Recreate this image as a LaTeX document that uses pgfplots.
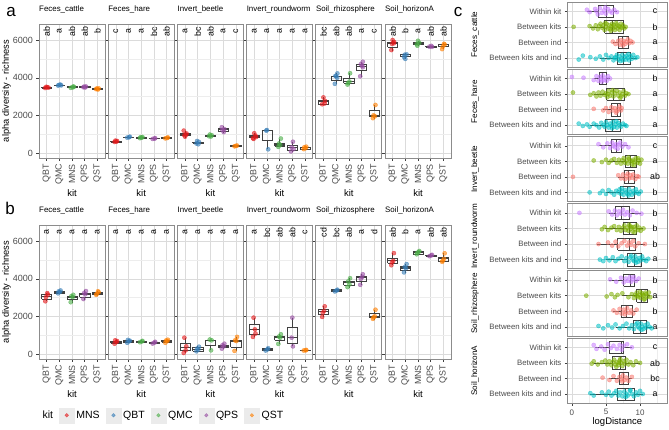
\documentclass[border=0pt]{standalone}
\usepackage{pgfplots}
\pgfplotsset{compat=1.18}
\usepackage{fontspec}
\setmainfont{Liberation Sans}
\newcommand{\fs}[1]{\fontsize{#1}{#1}\selectfont}
\definecolor{cQBT}{HTML}{E41A1C}
\definecolor{cQMC}{HTML}{377EB8}
\definecolor{cMNS}{HTML}{4DAF4A}
\definecolor{cQPS}{HTML}{984EA3}
\definecolor{cQST}{HTML}{FF7F00}
\definecolor{cW}{HTML}{C77CFF}
\definecolor{cBK}{HTML}{7CAE00}
\definecolor{cBI}{HTML}{F8766D}
\definecolor{cBKI}{HTML}{00BFC4}
\tikzset{ltr/.style={rotate=90, font=\fs{8.8}, inner sep=0pt},
         cl/.style={font=\fs{8.8}, inner sep=0pt}}
\pgfplotsset{
  common/.style={scale only axis, grid=both,
    major grid style={black!14, line width=0.5pt},
    minor grid style={black!7, line width=0.35pt},
    axis line style={black!45, line width=0.8pt},
    tick pos=left, tick align=outside, major tick length=2.6pt, minor tick length=0pt,
    tick style={black!75, line width=0.45pt}},
  abfacet/.style={common, width=66pt, height=134pt,
    xmin=0.4, xmax=5.6, ymin=-250, ymax=6850,
    xtick={1,2,3,4,5}, xticklabels={QBT,QMC,MNS,QPS,QST},
    ytick={0,2000,4000,6000}, minor ytick={1000,3000,5000}, yticklabels={},
    xticklabel style={rotate=90, anchor=east, font=\fs{8.9}, text=black!70},
    yticklabel style={font=\fs{9}, text=black!70},
    xlabel={kit},
    every axis x label/.style={at={(axis description cs:0.5,-0.261)}, anchor=center, font=\fs{9.5}},
    every axis y label/.style={at={(axis description cs:-0.492,0.5)}, rotate=90, anchor=center, font=\fs{9.3}},
    title style={at={(axis description cs:0,1)}, anchor=base west, yshift=6.3pt, font=\fs{7.9}, inner sep=0pt}},
  cfacet/.style={common, width=99.8pt, height=65.3pt,
    xmin=-0.65, xmax=14, ymin=0.4, ymax=4.6,
    ytick={1,2,3,4}, yticklabels={Between kits and ind,Between ind,Between kits,Within kit},
    xtick={0,5,10}, minor xtick={2.5,7.5,12.5}, xticklabels={},
    yticklabel style={font=\fs{7.8}, text=black!70},
    xticklabel style={font=\fs{8}, text=black!70},
    every axis y label/.style={at={(axis description cs:-0.927,0.5)}, rotate=90, anchor=center, font=\fs{8.1}},
    every axis x label/.style={at={(axis description cs:0.5,-0.282)}, anchor=center, font=\fs{9.5}}},
  pA/.style={only marks, mark=*, mark size=2.1pt, opacity=0.6},
  pC/.style={only marks, mark=*, mark size=2.1pt, opacity=0.55},
  bxs/.style={black!75, line width=0.5pt, no marks},
  legkey/.style={only marks, mark=*, mark size=1.8pt, mark options={fill opacity=0.6, draw opacity=0.6},
    legend image code/.code={\fill[black!8, opacity=1] (0pt,-7.5pt) rectangle (15pt,7.5pt);
      \draw[mark repeat=2, mark phase=2] plot coordinates {(0pt,0pt)(7.5pt,0pt)(15pt,0pt)};}}
}
% vertical box: position, lower whisker, Q1, median, Q3, upper whisker
\newcommand{\bx}[6]{%
  \pgfmathsetmacro{\xa}{#1-0.4}\pgfmathsetmacro{\xb}{#1+0.4}%
  \addplot[bxs] coordinates {(\xa,#3)(\xb,#3)(\xb,#5)(\xa,#5)(\xa,#3)};
  \addplot[bxs] coordinates {(#1,#2)(#1,#3)};
  \addplot[bxs] coordinates {(#1,#5)(#1,#6)};
  \addplot[bxs, line width=1.1pt] coordinates {(\xa,#4)(\xb,#4)};}
% horizontal box
\newcommand{\hbx}[6]{%
  \pgfmathsetmacro{\ya}{#1-0.4}\pgfmathsetmacro{\yb}{#1+0.4}%
  \addplot[bxs] coordinates {(#3,\ya)(#3,\yb)(#5,\yb)(#5,\ya)(#3,\ya)};
  \addplot[bxs] coordinates {(#2,#1)(#3,#1)};
  \addplot[bxs] coordinates {(#5,#1)(#6,#1)};
  \addplot[bxs, line width=0.9pt] coordinates {(#4,\ya)(#4,\yb)};}
\newcommand{\lab}[5]{\node[ltr] at (axis cs:1,6450) {#1}; \node[ltr] at (axis cs:2,6450) {#2}; \node[ltr] at (axis cs:3,6450) {#3}; \node[ltr] at (axis cs:4,6450) {#4}; \node[ltr] at (axis cs:5,6450) {#5};}
\newcommand{\clab}[4]{\node[cl] at (axis cs:12.2,4) {#1}; \node[cl] at (axis cs:12.2,3) {#2}; \node[cl] at (axis cs:12.2,2) {#3}; \node[cl] at (axis cs:12.2,1) {#4};}
\begin{document}
\begin{tikzpicture}
\useasboundingbox (0pt,0pt) rectangle (669pt,429pt);
\node[font=\fs{17}] at (11pt,417pt) {a};
\node[font=\fs{17}] at (10pt,221pt) {b};
\node[font=\fs{17}] at (458pt,417pt) {c};

% ===================== panel a =====================
\begin{axis}[abfacet, at={(39pt,405pt)}, anchor=north west, title={Feces\_cattle}, yticklabels={0,2000,4000,6000}, ylabel={alpha diversity - richness}]
\bx{1}{3440}{3470}{3490}{3510}{3540}
\bx{2}{3570}{3590}{3610}{3625}{3650}
\bx{3}{3460}{3490}{3510}{3530}{3550}
\bx{4}{3480}{3500}{3520}{3530}{3560}
\bx{5}{3380}{3400}{3420}{3440}{3460}
\addplot[pA,cQBT] coordinates {(0.88,3460)(1.05,3500)(1.15,3480)(0.97,3520)};
\addplot[pA,cQMC] coordinates {(1.9,3590)(2.08,3640)(2.15,3600)(1.98,3620)};
\addplot[pA,cMNS] coordinates {(2.9,3470)(3.1,3540)(3.05,3490)(3.15,3520)};
\addplot[pA,cQPS] coordinates {(3.9,3500)(4.1,3540)(4.05,3490)(3.95,3530)};
\addplot[pA,cQST] coordinates {(4.9,3400)(5.1,3440)(5.05,3380)(4.95,3430)};
\lab{ab}{a}{ab}{ab}{b}
\end{axis}
\begin{axis}[abfacet, at={(108.2pt,405pt)}, anchor=north west, title={Feces\_hare}]
\bx{1}{590}{610}{630}{650}{670}
\bx{2}{820}{840}{855}{870}{890}
\bx{3}{790}{815}{830}{845}{870}
\bx{4}{750}{770}{785}{795}{810}
\bx{5}{780}{800}{815}{830}{850}
\addplot[pA,cQBT] coordinates {(0.9,600)(1.1,650)(1.05,620)(0.97,670)};
\addplot[pA,cQMC] coordinates {(1.9,830)(2.1,880)(2.05,850)};
\addplot[pA,cMNS] coordinates {(2.9,800)(3.1,860)(3.05,830)(2.95,850)};
\addplot[pA,cQPS] coordinates {(3.9,760)(4.1,800)(4.05,780)};
\addplot[pA,cQST] coordinates {(4.9,790)(5.1,840)(5.05,810)};
\lab{c}{a}{a}{bc}{ab}
\end{axis}
\begin{axis}[abfacet, at={(177.4pt,405pt)}, anchor=north west, title={Invert\_beetle}]
\bx{1}{820}{940}{980}{1040}{1200}
\bx{2}{480}{540}{570}{600}{660}
\bx{3}{880}{910}{930}{960}{990}
\bx{4}{1100}{1180}{1260}{1350}{1420}
\bx{5}{350}{375}{390}{405}{430}
\addplot[pA,cQBT] coordinates {(0.9,1200)(1.1,990)(1.0,880)(1.12,1050)(0.95,960)};
\addplot[pA,cQMC] coordinates {(1.9,520)(2.1,600)(2.05,480)(1.95,650)};
\addplot[pA,cMNS] coordinates {(2.9,900)(3.1,960)(3.05,890)(2.95,990)};
\addplot[pA,cQPS] coordinates {(3.9,1380)(4.1,1280)(4.05,1120)(3.95,1230)};
\addplot[pA,cQST] coordinates {(4.9,370)(5.1,410)(5.0,390)};
\lab{a}{bc}{ab}{a}{c}
\end{axis}
\begin{axis}[abfacet, at={(246.6pt,405pt)}, anchor=north west, title={Invert\_roundworm}]
\bx{1}{750}{830}{880}{950}{1080}
\bx{2}{210}{700}{1200}{1215}{1230}
\bx{3}{320}{360}{440}{530}{780}
\bx{4}{90}{180}{320}{440}{620}
\bx{5}{190}{230}{300}{330}{380}
\addplot[pA,cQBT] coordinates {(0.9,800)(1.1,930)(1.0,1060)(1.15,860)(0.95,760)};
\addplot[pA,cQMC] coordinates {(2.0,1230)(1.95,1200)(2.1,210)};
\addplot[pA,cMNS] coordinates {(2.9,340)(3.1,780)(3.05,440)(2.95,520)};
\addplot[pA,cQPS] coordinates {(3.9,100)(4.1,220)(4.05,610)(3.95,320)};
\addplot[pA,cQST] coordinates {(4.9,220)(5.1,350)(5.05,270)(4.95,320)};
\lab{a}{a}{a}{a}{a}
\end{axis}
\begin{axis}[abfacet, at={(315.8pt,405pt)}, anchor=north west, title={Soil\_rhizosphere}]
\bx{1}{2590}{2620}{2720}{2820}{2970}
\bx{2}{3670}{3850}{4060}{4090}{4240}
\bx{3}{3620}{3710}{3800}{3970}{4240}
\bx{4}{4060}{4380}{4620}{4710}{4850}
\bx{5}{1820}{1940}{2010}{2290}{2560}
\addplot[pA,cQBT] coordinates {(0.9,2600)(1.1,2640)(1.0,2960)(1.12,2780)};
\addplot[pA,cQMC] coordinates {(1.9,3680)(2.1,4230)(2.0,4080)(1.95,4100)(2.08,4000)};
\addplot[pA,cMNS] coordinates {(2.9,3640)(3.1,4240)(3.05,3800)(2.95,3720)};
\addplot[pA,cQPS] coordinates {(3.9,4080)(4.1,4850)(4.05,4640)(3.95,4720)(4.1,4560)};
\addplot[pA,cQST] coordinates {(4.9,1860)(5.1,2560)(5.05,1960)(4.95,2010)};
\lab{bc}{ab}{ab}{a}{c}
\end{axis}
\begin{axis}[abfacet, at={(385pt,405pt)}, anchor=north west, title={Soil\_horizonA}]
\bx{1}{5440}{5610}{5820}{5880}{6000}
\bx{2}{4990}{5150}{5210}{5240}{5300}
\bx{3}{5680}{5790}{5820}{5860}{5970}
\bx{4}{5580}{5620}{5650}{5670}{5700}
\bx{5}{5500}{5650}{5740}{5770}{5820}
\addplot[pA,cQBT] coordinates {(0.9,5470)(1.1,5830)(1.0,6000)(1.12,5900)(0.95,5800)};
\addplot[pA,cQMC] coordinates {(1.9,5100)(2.1,5240)(2.0,5000)(1.95,5220)};
\addplot[pA,cMNS] coordinates {(2.9,5780)(3.1,5850)(3.0,5960)(2.95,5700)};
\addplot[pA,cQPS] coordinates {(3.9,5650)(4.1,5640)(4.05,5690)};
\addplot[pA,cQST] coordinates {(4.9,5520)(5.1,5760)(5.05,5800)(4.95,5650)};
\lab{ab}{b}{a}{ab}{ab}
\end{axis}

% ===================== panel b =====================
\begin{axis}[abfacet, at={(39pt,204pt)}, anchor=north west, title={Feces\_cattle}, yticklabels={0,2000,4000,6000}, ylabel={alpha diversity - richness},
  legend style={at={(axis description cs:0.02,-0.42)}, anchor=west, draw=none, fill=none, font=\fs{10.5}, inner sep=0pt,
    /tikz/every even column/.append style={column sep=4pt}}, legend columns=6]
\addlegendimage{empty legend}\addlegendentry{kit}
\addlegendimage{legkey, cQBT}\addlegendentry{MNS}
\addlegendimage{legkey, cQMC}\addlegendentry{QBT}
\addlegendimage{legkey, cMNS}\addlegendentry{QMC}
\addlegendimage{legkey, cQPS}\addlegendentry{QPS}
\addlegendimage{legkey, cQST}\addlegendentry{QST}
\bx{1}{2810}{2930}{3070}{3160}{3240}
\bx{2}{3210}{3250}{3300}{3350}{3390}
\bx{3}{2720}{2890}{3030}{3100}{3160}
\bx{4}{2890}{3030}{3170}{3240}{3390}
\bx{5}{3100}{3160}{3240}{3280}{3340}
\addplot[pA,cQBT] coordinates {(0.9,2810)(1.1,3160)(1.05,3240)(0.95,3030)};
\addplot[pA,cQMC] coordinates {(1.9,3230)(2.1,3380)(2.05,3300)(1.95,3330)};
\addplot[pA,cMNS] coordinates {(2.9,2760)(3.1,3150)(3.05,3030)(2.95,3080)};
\addplot[pA,cQPS] coordinates {(3.9,2930)(4.1,3350)(4.05,3180)(3.95,3240)};
\addplot[pA,cQST] coordinates {(4.9,3150)(5.1,3290)(5.05,3340)(4.95,3200)};
\lab{a}{a}{a}{a}{a}
\end{axis}
\begin{axis}[abfacet, at={(108.2pt,204pt)}, anchor=north west, title={Feces\_hare}]
\bx{1}{530}{600}{650}{700}{740}
\bx{2}{600}{650}{690}{720}{760}
\bx{3}{620}{650}{680}{700}{730}
\bx{4}{560}{590}{620}{650}{680}
\bx{5}{600}{650}{690}{730}{780}
\addplot[pA,cQBT] coordinates {(0.9,560)(1.1,700)(1.05,650)(0.95,740)};
\addplot[pA,cQMC] coordinates {(1.9,610)(2.1,720)(2.05,690)(1.95,760)};
\addplot[pA,cMNS] coordinates {(2.9,640)(3.1,710)(3.05,680)};
\addplot[pA,cQPS] coordinates {(3.9,570)(4.1,660)(4.05,620)};
\addplot[pA,cQST] coordinates {(4.9,610)(5.1,770)(5.05,700)(4.95,730)};
\lab{a}{a}{a}{a}{a}
\end{axis}
\begin{axis}[abfacet, at={(177.4pt,204pt)}, anchor=north west, title={Invert\_beetle}]
\bx{1}{70}{210}{350}{600}{880}
\bx{2}{140}{180}{250}{350}{420}
\bx{3}{210}{475}{740}{760}{780}
\bx{4}{300}{360}{420}{500}{560}
\bx{5}{180}{390}{700}{740}{920}
\addplot[pA,cQBT] coordinates {(0.95,880)(1.1,420)(1.05,210)(0.9,70)};
\addplot[pA,cQMC] coordinates {(1.9,160)(2.1,400)(2.05,250)(1.95,300)};
\addplot[pA,cMNS] coordinates {(2.95,780)(3.1,740)(3.05,210)};
\addplot[pA,cQPS] coordinates {(3.9,300)(4.1,560)(4.05,420)(3.95,480)};
\addplot[pA,cQST] coordinates {(4.9,180)(5.1,920)(5.05,700)(4.95,740)};
\lab{a}{a}{a}{a}{a}
\end{axis}
\begin{axis}[abfacet, at={(246.6pt,204pt)}, anchor=north west, title={Invert\_roundworm}]
\bx{1}{920}{1060}{1320}{1590}{1940}
\bx{2}{170}{210}{260}{320}{370}
\bx{3}{530}{740}{880}{950}{1060}
\bx{4}{420}{600}{880}{1410}{1940}
\bx{5}{180}{200}{210}{225}{240}
\addplot[pA,cQBT] coordinates {(0.95,1940)(1.05,1320)(1.1,1100)(0.9,920)};
\addplot[pA,cQMC] coordinates {(1.9,200)(2.1,320)(2.05,260)};
\addplot[pA,cMNS] coordinates {(2.9,550)(3.1,1060)(3.05,880)(2.95,940)};
\addplot[pA,cQPS] coordinates {(4.0,1940)(3.95,880)(4.05,420)};
\addplot[pA,cQST] coordinates {(4.9,200)(5.1,230)(5.05,210)};
\lab{a}{bc}{ab}{ab}{c}
\end{axis}
\begin{axis}[abfacet, at={(315.8pt,204pt)}, anchor=north west, title={Soil\_rhizosphere}]
\bx{1}{1960}{2120}{2280}{2370}{2540}
\bx{2}{3300}{3360}{3390}{3420}{3460}
\bx{3}{3520}{3650}{3780}{3870}{4030}
\bx{4}{3660}{3870}{4060}{4130}{4240}
\bx{5}{1800}{1940}{2010}{2150}{2360}
\addplot[pA,cQBT] coordinates {(0.9,1980)(1.1,2540)(1.05,2300)(0.95,2200)};
\addplot[pA,cQMC] coordinates {(1.9,3330)(2.1,3420)(2.05,3380)};
\addplot[pA,cMNS] coordinates {(2.9,3560)(3.1,4030)(3.05,3700)(2.95,3860)};
\addplot[pA,cQPS] coordinates {(3.9,3680)(4.1,4240)(4.05,4100)(3.95,4000)};
\addplot[pA,cQST] coordinates {(4.9,1880)(5.1,2360)(5.05,2010)(4.95,1960)};
\lab{cd}{bc}{ab}{a}{d}
\end{axis}
\begin{axis}[abfacet, at={(385pt,204pt)}, anchor=north west, title={Soil\_horizonA}]
\bx{1}{4710}{4840}{4980}{5100}{5360}
\bx{2}{4310}{4450}{4570}{4660}{4800}
\bx{3}{5260}{5300}{5420}{5440}{5490}
\bx{4}{5170}{5210}{5240}{5270}{5290}
\bx{5}{4880}{4940}{5070}{5150}{5360}
\addplot[pA,cQBT] coordinates {(0.9,4720)(1.1,5360)(1.05,4950)(0.95,4880)};
\addplot[pA,cQMC] coordinates {(1.9,4340)(2.1,4780)(2.05,4560)(1.95,4620)};
\addplot[pA,cMNS] coordinates {(2.9,5300)(3.1,5470)(3.05,5420)(2.95,5380)};
\addplot[pA,cQPS] coordinates {(3.9,5200)(4.1,5270)(4.05,5240)};
\addplot[pA,cQST] coordinates {(4.9,4900)(5.1,5350)(5.05,5060)(4.95,4960)};
\lab{ab}{b}{a}{ab}{ab}
\end{axis}

% ===================== panel c =====================
\begin{axis}[cfacet, at={(567.5pt,427pt)}, anchor=north west, ylabel={Feces\_cattle}, xtick style={draw=none}]
\addplot[pC,cW] coordinates {(2.2,4.1)(2.6,3.95)(3.4,4.15)(3.8,3.8)(4.1,4.2)(4.4,3.9)(4.7,4.05)(5.0,3.85)(5.3,4.15)(5.6,4.0)(5.9,3.9)(6.2,4.1)(6.6,3.95)(4.9,4.25)(3.6,4.0)};
\addplot[pC,cBK] coordinates {(0.25,3.0)(2.6,3.05)(3.1,2.9)(3.5,3.1)(3.8,2.85)(4.0,3.05)(4.2,3.2)(4.4,2.95)(4.6,3.1)(4.8,2.8)(5.0,3.0)(5.1,3.2)(5.3,2.9)(5.5,3.1)(5.6,2.85)(5.8,3.05)(5.9,3.2)(6.0,2.9)(6.1,3.1)(6.3,2.8)(6.4,3.0)(6.6,3.15)(6.7,2.9)(6.9,3.05)(7.0,2.8)(7.2,3.2)(7.3,2.95)(7.5,3.1)(7.7,2.9)(7.9,3.0)(5.7,2.75)(6.5,3.25)(4.9,3.25)(7.1,3.0)};
\addplot[pC,cBI] coordinates {(6.0,2.05)(6.4,1.9)(6.8,2.1)(7.0,1.85)(7.2,2.15)(7.4,1.95)(7.6,2.1)(7.8,1.9)(8.0,2.05)(8.2,2.2)(8.4,1.95)(8.6,2.1)(8.9,2.0)(7.5,1.8)};
\addplot[pC,cBKI] coordinates {(1.0,0.9)(1.6,1.15)(2.7,1.05)(3.5,0.95)(4.1,1.1)(4.6,0.9)(5.0,1.2)(5.4,1.0)(5.8,1.1)(6.1,0.85)(6.4,1.05)(6.6,1.2)(6.8,0.9)(7.0,1.1)(7.2,0.95)(7.4,1.2)(7.5,0.85)(7.7,1.05)(7.9,0.9)(8.0,1.15)(8.2,1.0)(8.4,0.85)(8.6,1.1)(8.8,0.95)(9.0,1.2)(9.3,1.0)(9.6,1.05)(7.1,0.8)(8.3,1.25)(6.3,1.0)};
\hbx{4}{2.2}{3.9}{5.0}{6.0}{6.6}
\hbx{3}{2.6}{4.8}{6.0}{7.6}{7.9}
\hbx{2}{6.0}{6.8}{7.45}{8.2}{8.9}
\hbx{1}{4.1}{6.6}{7.6}{8.5}{9.6}
\clab{c}{b}{a}{a}
\end{axis}
\begin{axis}[cfacet, at={(567.5pt,359.8pt)}, anchor=north west, ylabel={Feces\_hare}, xtick style={draw=none}]
\addplot[pC,cW] coordinates {(0.0,4.1)(1.7,4.05)(3.2,3.9)(3.6,4.15)(3.9,3.85)(4.1,4.1)(4.3,3.95)(4.5,4.2)(4.7,3.9)(4.9,4.05)(5.1,3.85)(5.3,4.15)(5.6,4.0)(4.4,3.8)};
\addplot[pC,cBK] coordinates {(0.15,3.1)(2.7,2.95)(3.2,3.05)(3.6,2.85)(3.9,3.1)(4.2,2.9)(4.5,3.15)(4.8,2.95)(5.0,3.05)(5.2,2.8)(5.4,3.2)(5.6,2.9)(5.9,3.1)(6.1,2.85)(6.3,3.05)(6.6,3.2)(6.8,2.9)(7.0,3.1)(7.2,2.85)(7.4,3.0)(7.6,3.2)(7.8,2.9)(8.0,3.05)(8.3,3.0)(6.0,3.25)(7.1,2.75)(5.3,3.0)};
\addplot[pC,cBI] coordinates {(3.2,2.05)(4.6,1.95)(5.0,2.1)(5.4,1.85)(5.8,2.15)(6.0,1.95)(6.3,2.1)(6.6,1.9)(6.8,2.05)(7.0,2.2)(7.2,1.95)(7.3,2.1)(6.5,1.8)};
\addplot[pC,cBKI] coordinates {(1.0,1.1)(1.6,0.95)(2.2,1.05)(2.6,0.9)(3.2,1.1)(3.6,1.0)(4.0,0.85)(4.3,1.15)(4.6,1.0)(4.8,0.9)(5.0,1.2)(5.2,1.0)(5.4,0.85)(5.6,1.1)(5.8,0.95)(6.0,1.2)(6.2,0.9)(6.4,1.05)(6.6,0.85)(6.8,1.15)(7.0,1.0)(7.2,0.9)(7.5,1.1)(7.8,1.0)(8.0,0.95)(5.9,0.8)(6.5,1.25)};
\hbx{4}{3.2}{4.0}{4.5}{5.0}{5.6}
\hbx{3}{3.2}{5.1}{6.1}{7.7}{8.3}
\hbx{2}{4.6}{5.7}{6.7}{7.1}{7.3}
\hbx{1}{2.6}{4.9}{6.0}{7.1}{8.0}
\clab{b}{a}{a}{a}
\end{axis}
\begin{axis}[cfacet, at={(567.5pt,292.6pt)}, anchor=north west, ylabel={Invert\_beetle}, xtick style={draw=none}]
\addplot[pC,cW] coordinates {(3.9,4.1)(4.6,3.9)(5.2,4.15)(5.6,3.85)(5.9,4.2)(6.1,4.0)(6.3,3.9)(6.5,4.1)(6.7,3.8)(6.9,4.05)(7.1,4.2)(7.4,3.95)(7.8,4.1)(8.3,3.9)};
\addplot[pC,cBK] coordinates {(3.2,3.05)(4.4,2.95)(5.0,3.1)(5.4,2.9)(5.8,3.05)(6.2,3.15)(6.6,2.9)(6.9,3.1)(7.2,2.85)(7.4,3.05)(7.6,3.2)(7.8,2.9)(8.0,3.05)(8.2,2.85)(8.4,3.15)(8.6,3.0)(8.8,2.8)(9.0,3.1)(9.2,2.95)(9.4,3.2)(9.6,2.9)(9.8,3.05)(10.0,2.85)(10.2,3.1)(8.3,3.25)(9.1,2.75)(8.9,3.0)(9.7,3.2)};
\addplot[pC,cBI] coordinates {(0.15,2.0)(6.8,2.1)(7.2,1.9)(7.5,2.15)(7.8,1.85)(8.0,2.05)(8.2,2.2)(8.4,1.9)(8.6,2.1)(8.8,1.95)(9.0,2.15)(9.3,1.85)(9.6,2.05)(9.8,2.0)};
\addplot[pC,cBKI] coordinates {(2.6,1.0)(4.1,0.95)(4.5,1.1)(5.0,0.9)(5.4,1.15)(5.8,1.0)(6.2,0.85)(6.5,1.1)(6.8,1.0)(7.0,1.2)(7.2,0.9)(7.4,1.05)(7.6,0.85)(7.8,1.15)(8.0,1.0)(8.2,0.9)(8.4,1.2)(8.6,1.0)(8.8,0.85)(9.0,1.1)(9.2,0.95)(9.4,1.2)(9.6,1.0)(9.8,0.9)(10.1,1.05)(8.3,0.8)(7.3,1.25)};
\hbx{4}{3.9}{5.7}{6.5}{7.2}{8.3}
\hbx{3}{5.3}{7.8}{8.6}{9.5}{10.2}
\hbx{2}{6.8}{7.7}{8.3}{9.1}{9.8}
\hbx{1}{5.0}{7.1}{8.2}{9.1}{10.1}
\clab{c}{a}{ab}{b}
\end{axis}
\begin{axis}[cfacet, at={(567.5pt,225.4pt)}, anchor=north west, ylabel={Invert\_roundworm}, xtick style={draw=none}]
\addplot[pC,cW] coordinates {(1.1,4.0)(5.4,4.1)(5.9,3.9)(6.3,4.15)(6.6,3.85)(6.9,4.1)(7.2,3.95)(7.5,4.2)(7.8,3.9)(8.1,4.05)(8.5,3.85)(8.9,4.15)(9.5,4.0)(10.2,3.95)};
\addplot[pC,cBK] coordinates {(4.4,2.95)(4.8,3.1)(5.3,2.9)(5.8,3.05)(6.2,3.15)(6.6,2.9)(6.9,3.1)(7.2,2.85)(7.5,3.05)(7.7,3.2)(7.9,2.9)(8.1,3.05)(8.3,2.85)(8.5,3.15)(8.7,3.0)(8.9,2.8)(9.1,3.1)(9.3,2.95)(9.5,3.2)(9.7,2.9)(9.9,3.05)(10.1,2.85)(10.5,3.0)(8.4,3.25)(9.2,2.75)(8.8,3.1)};
\addplot[pC,cBI] coordinates {(3.9,2.0)(5.3,2.1)(5.9,1.9)(6.4,2.15)(6.8,1.85)(7.3,2.05)(7.7,2.2)(8.1,1.9)(8.4,2.1)(8.7,1.95)(9.0,2.2)(9.3,1.85)(9.8,2.05)(10.7,2.0)};
\addplot[pC,cBKI] coordinates {(4.1,1.0)(4.6,0.9)(5.0,1.1)(5.5,0.95)(6.0,1.15)(6.4,0.9)(6.8,1.05)(7.3,1.2)(7.7,0.9)(8.0,1.1)(8.3,0.85)(8.6,1.15)(8.9,1.0)(9.1,0.9)(9.3,1.2)(9.5,1.0)(9.7,0.85)(9.9,1.1)(10.1,0.95)(10.3,1.2)(10.6,1.0)(10.9,0.9)(11.2,1.05)(9.4,0.8)(8.7,1.25)};
\hbx{4}{5.4}{6.3}{7.3}{8.4}{10.2}
\hbx{3}{4.8}{7.6}{8.5}{9.5}{10.5}
\hbx{2}{3.7}{6.7}{8.4}{9.3}{10.7}
\hbx{1}{5.0}{8.1}{9.2}{10.2}{11.2}
\clab{b}{b}{b}{a}
\end{axis}
\begin{axis}[cfacet, at={(567.5pt,158.2pt)}, anchor=north west, ylabel={Soil\_rhizosphere}, xtick style={draw=none}]
\addplot[pC,cW] coordinates {(5.6,4.05)(6.5,3.9)(7.2,4.15)(7.6,3.85)(7.9,4.1)(8.2,3.95)(8.5,4.2)(8.7,3.9)(8.9,4.05)(9.1,4.2)(9.4,3.95)(9.8,4.1)};
\addplot[pC,cBK] coordinates {(2.1,3.0)(5.1,2.95)(5.8,3.1)(6.3,2.9)(6.7,3.05)(7.4,3.15)(8.3,2.9)(8.8,3.1)(9.1,2.85)(9.3,3.05)(9.5,3.2)(9.7,2.9)(9.9,3.05)(10.1,2.85)(10.3,3.15)(10.5,3.0)(10.7,2.8)(10.9,3.1)(11.1,2.95)(11.3,3.2)(11.5,2.9)(10.0,3.25)(10.6,2.75)(10.4,3.05)(9.6,3.0)(10.8,3.2)};
\addplot[pC,cBI] coordinates {(6.1,2.05)(6.6,1.9)(7.0,2.15)(7.3,1.85)(7.6,2.1)(7.9,1.95)(8.1,2.2)(8.4,1.9)(8.7,2.05)(9.0,1.85)(9.5,2.1)(7.8,1.8)};
\addplot[pC,cBKI] coordinates {(3.9,1.05)(4.6,0.9)(5.3,1.1)(5.9,0.95)(6.4,1.15)(7.0,0.9)(7.5,1.05)(8.0,1.2)(8.4,0.9)(8.8,1.1)(9.1,0.85)(9.4,1.15)(9.7,1.0)(9.9,0.9)(10.1,1.2)(10.3,1.0)(10.5,0.85)(10.7,1.1)(10.9,0.95)(11.1,1.2)(11.4,1.0)(11.7,0.9)(10.2,0.8)(9.6,1.25)};
\hbx{4}{5.4}{7.6}{8.6}{9.1}{9.8}
\hbx{3}{7.3}{9.5}{10.2}{11.1}{11.5}
\hbx{2}{6.1}{7.2}{8.0}{8.8}{9.5}
\hbx{1}{6.4}{9.0}{10.0}{10.9}{11.7}
\clab{b}{a}{b}{a}
\end{axis}
\begin{axis}[cfacet, at={(567.5pt,91pt)}, anchor=north west, ylabel={Soil\_horizonA}, xticklabels={0,5,10}, xlabel={logDistance}]
\addplot[pC,cW] coordinates {(3.2,4.15)(3.6,3.9)(4.3,4.05)(4.8,3.85)(5.3,4.2)(5.7,3.95)(6.1,4.1)(6.6,3.9)(7.0,4.15)(7.3,3.85)(7.6,4.1)(8.1,4.2)(8.8,4.0)};
\addplot[pC,cBK] coordinates {(2.9,2.95)(3.2,3.1)(3.8,2.9)(4.4,3.05)(4.9,3.15)(5.2,2.9)(5.5,3.1)(5.8,2.85)(6.0,3.05)(6.2,3.2)(6.4,2.9)(6.6,3.05)(6.8,2.85)(7.0,3.15)(7.2,3.0)(7.4,2.8)(7.6,3.1)(7.8,2.95)(8.0,3.2)(8.3,2.9)(8.6,3.05)(9.0,2.85)(9.4,3.1)(10.0,3.0)(7.1,3.25)(6.5,2.75)(6.9,3.0)};
\addplot[pC,cBI] coordinates {(4.5,2.05)(5.5,1.9)(6.1,2.15)(6.6,1.85)(7.0,2.1)(7.3,1.95)(7.5,2.2)(7.7,1.9)(8.0,2.05)(8.3,1.85)(8.8,2.1)(7.4,1.8)};
\addplot[pC,cBKI] coordinates {(2.7,1.05)(3.2,0.9)(4.4,1.1)(5.0,0.95)(5.4,1.15)(5.8,0.9)(6.2,1.05)(6.5,1.2)(6.8,0.9)(7.1,1.1)(7.4,0.85)(7.7,1.15)(8.0,1.0)(8.2,0.9)(8.5,1.2)(8.8,1.0)(9.1,0.85)(9.4,1.1)(9.7,0.95)(10.0,1.2)(10.4,1.0)(7.9,0.8)(8.6,1.25)};
\hbx{4}{3.4}{5.5}{7.2}{7.6}{8.8}
\hbx{3}{3.2}{5.9}{7.1}{7.8}{10.0}
\hbx{2}{5.5}{7.0}{7.6}{8.3}{8.8}
\hbx{1}{2.7}{6.6}{7.8}{9.1}{10.4}
\clab{c}{ab}{bc}{a}
\end{axis}
\end{tikzpicture}
\end{document}
